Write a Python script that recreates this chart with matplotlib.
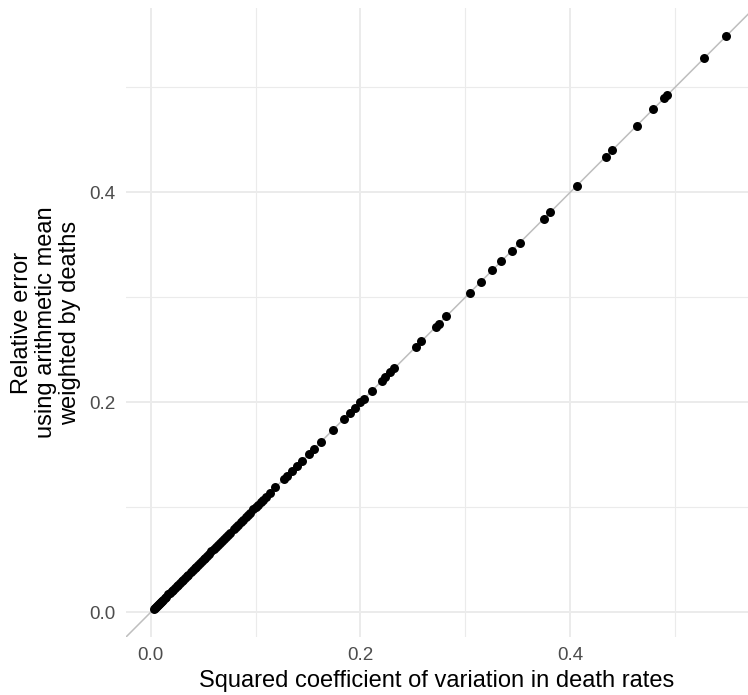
import matplotlib
matplotlib.use("Agg")
import matplotlib.pyplot as plt
from matplotlib.ticker import FixedLocator, FixedFormatter

plt.rcParams['font.family'] = ['Liberation Sans', 'DejaVu Sans']

# Squared coefficient of variation in death rates
cv2 = [0.003, 0.004, 0.005, 0.006, 0.007, 0.008, 0.009, 0.010, 0.011, 0.012,
       0.014, 0.015, 0.017, 0.018, 0.020, 0.021, 0.023, 0.025, 0.026, 0.028,
       0.030, 0.031, 0.033, 0.035, 0.036, 0.038, 0.040, 0.042, 0.043, 0.045,
       0.047, 0.049, 0.051, 0.052, 0.054, 0.056, 0.058, 0.060, 0.062, 0.064,
       0.066, 0.068, 0.070, 0.072, 0.074, 0.076, 0.079, 0.081, 0.083, 0.086,
       0.088, 0.091, 0.093, 0.095, 0.098, 0.100, 0.102, 0.105, 0.107,
       0.1095, 0.114, 0.119, 0.127, 0.130, 0.135, 0.1397, 0.1444, 0.1508,
       0.1556, 0.162, 0.174, 0.184, 0.190, 0.195, 0.200, 0.2032, 0.211,
       0.2206, 0.2238, 0.2286, 0.2324, 0.2527, 0.2581, 0.2717, 0.2749,
       0.2819, 0.3041, 0.3146, 0.3257, 0.3343, 0.3445, 0.3517, 0.3746,
       0.381, 0.4064, 0.434, 0.4403, 0.4635, 0.4794, 0.4898, 0.4927,
       0.528, 0.5489]

# Relative error using arithmetic mean weighted by deaths
rel_err = [0.003, 0.004, 0.005, 0.006, 0.007, 0.008, 0.009, 0.010, 0.011, 0.012,
           0.014, 0.015, 0.017, 0.018, 0.020, 0.021, 0.023, 0.025, 0.026, 0.028,
           0.030, 0.031, 0.033, 0.035, 0.036, 0.038, 0.040, 0.042, 0.043, 0.045,
           0.047, 0.049, 0.051, 0.052, 0.054, 0.056, 0.058, 0.060, 0.062, 0.064,
           0.066, 0.068, 0.070, 0.072, 0.074, 0.076, 0.079, 0.081, 0.083, 0.086,
           0.088, 0.091, 0.093, 0.095, 0.098, 0.100, 0.102, 0.105, 0.107,
           0.1095, 0.114, 0.119, 0.127, 0.130, 0.135, 0.1397, 0.1444, 0.1508,
           0.1556, 0.162, 0.174, 0.184, 0.190, 0.195, 0.200, 0.2032, 0.211,
           0.2206, 0.2238, 0.2286, 0.2324, 0.2527, 0.2581, 0.2717, 0.2749,
           0.2819, 0.3041, 0.3146, 0.3257, 0.3343, 0.3445, 0.3517, 0.3746,
           0.381, 0.4064, 0.434, 0.4403, 0.4635, 0.4794, 0.4898, 0.4927,
           0.528, 0.5489]

major_ticks = [0.0, 0.2, 0.4]
major_labels = ["0.0", "0.2", "0.4"]
minor_ticks = [0.1, 0.3, 0.5]

W, H = 748, 695
fig = plt.figure(figsize=(W / 100, H / 100), dpi=100)
left, right, top, bottom = 125.7, 748, 8.3, 637
ax = fig.add_axes([left / W, (H - bottom) / H, (right - left) / W, (bottom - top) / H])

ax.set_xlim(-0.0238, 0.5695)
ax.set_ylim(-0.0235, 0.5752)

for s in ax.spines.values():
    s.set_visible(False)

ax.xaxis.set_major_locator(FixedLocator(major_ticks))
ax.xaxis.set_major_formatter(FixedFormatter(major_labels))
ax.yaxis.set_major_locator(FixedLocator(major_ticks))
ax.yaxis.set_major_formatter(FixedFormatter(major_labels))
ax.xaxis.set_minor_locator(FixedLocator(minor_ticks))
ax.yaxis.set_minor_locator(FixedLocator(minor_ticks))

ax.grid(which='major', color='#EBEBEB', linewidth=1.4)
ax.grid(which='minor', color='#EBEBEB', linewidth=0.8)
ax.set_axisbelow(True)
ax.tick_params(which='both', length=0)
ax.tick_params(axis='both', which='major', labelsize=13.6, labelcolor='#4D4D4D', pad=7.5)

ax.axline((0, 0), slope=1, color='#BEBEBE', linewidth=1.1, zorder=2)
ax.scatter(cv2, rel_err, s=42, color='black', linewidths=0, zorder=3)

ax.set_xlabel("Squared coefficient of variation in death rates", fontsize=17, color='black')
ax.xaxis.set_label_coords(0.5, -0.052)
ax.set_ylabel("Relative error\nusing arithmetic mean\nweighted by deaths", fontsize=17,
              color='black', multialignment='center', linespacing=1.12)
ax.yaxis.set_label_coords(-0.071, 0.5)

fig.savefig("out.png", dpi=100)
